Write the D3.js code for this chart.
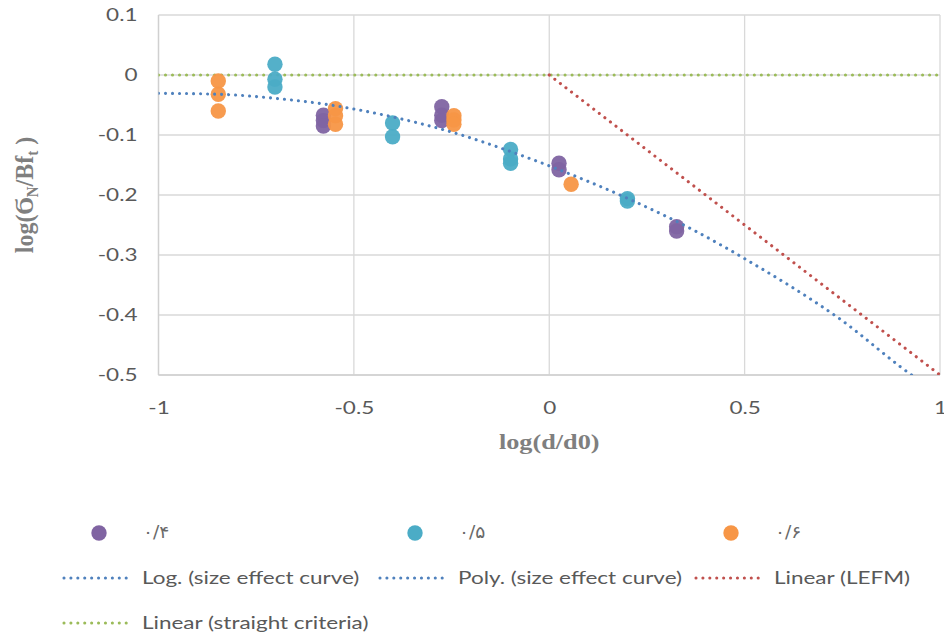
<!DOCTYPE html>
<html><head><meta charset="utf-8">
<script src="https://cdn.jsdelivr.net/npm/d3@7"></script>
<style>
html,body{margin:0;padding:0;background:#fff;}
svg{display:block;}
</style></head>
<body>
<svg id="chart" width="944" height="639"></svg>
<script>
// ---- data ----
const seriesNames = ["۰/۴", "۰/۵", "۰/۶"];
const seriesColors = ["#8064A2", "#4BACC6", "#F79646"];
// [log(d/d0), log(σN/Bft)]
const s04 = [[-0.578,-0.067],[-0.578,-0.076],[-0.578,-0.085],[-0.275,-0.053],[-0.275,-0.067],[-0.275,-0.076],[0.025,-0.147],[0.025,-0.158],[0.326,-0.253],[0.326,-0.26]];
const s05 = [[-0.702,0.018],[-0.702,-0.007],[-0.702,-0.02],[-0.401,-0.08],[-0.401,-0.103],[-0.099,-0.124],[-0.099,-0.14],[-0.099,-0.147],[0.2,-0.206],[0.2,-0.21]];
const s06 = [[-0.847,-0.01],[-0.847,-0.032],[-0.847,-0.06],[-0.547,-0.056],[-0.547,-0.068],[-0.547,-0.082],[-0.244,-0.068],[-0.244,-0.075],[-0.244,-0.082],[0.056,-0.182]];
// size effect curve (trendline)
const curveX = [-1.0,-0.85,-0.70,-0.57,-0.40,-0.24,-0.11,0.01,0.205,0.377,0.505,0.736,0.95,1.0];
const curveY = [-0.0305,-0.032,-0.039,-0.049,-0.07,-0.097,-0.125,-0.154,-0.207,-0.261,-0.308,-0.403,-0.51,-0.53];
const lefmX = [0, 1];
const lefmY = [0, -0.5];
const straightX = [-1, 1];
const straightY = [0, 0];
const xTicks = [-1, -0.5, 0, 0.5, 1];
const yTicks = [0.1, 0, -0.1, -0.2, -0.3, -0.4, -0.5];
const lineNames = ["Log. (size effect curve)", "Poly. (size effect curve)", "Linear (LEFM)", "Linear (straight criteria)"];
const lineColors = ["#4F81BD", "#4F81BD", "#C0504D", "#9BBB59"];

// ---- drawing ----
const svg = d3.select("#chart");
const L = 158.5, R = 940, T = 15, B = 375;
const SX = 1.25; // horizontal text stretch of the reference
const x = d3.scaleLinear().domain([-1, 1]).range([L, R]);
const y = d3.scaleLinear().domain([-0.5, 0.1]).range([B, T]);
const tickFont = "Lato, 'Open Sans', sans-serif";

svg.append("defs").append("clipPath").attr("id","plotclip")
  .append("rect").attr("x", L).attr("y", T-2).attr("width", R-L+4).attr("height", B-T+2);

// gridlines
const grid = svg.append("g");
grid.selectAll("line.h").data(yTicks).join("line")
  .attr("x1", L).attr("x2", R).attr("y1", d=>y(d)).attr("y2", d=>y(d))
  .attr("stroke", "#D9D9D9").attr("stroke-width", 1.3);
grid.selectAll("line.v").data(xTicks).join("line")
  .attr("y1", T).attr("y2", B).attr("x1", d=>x(d)).attr("x2", d=>x(d))
  .attr("stroke", "#D9D9D9").attr("stroke-width", 1.3);
svg.append("line").attr("x1", L).attr("x2", L).attr("y1", T).attr("y2", B).attr("stroke", "#D0D0D0").attr("stroke-width", 1.3);
svg.append("line").attr("x1", L).attr("x2", R).attr("y1", B).attr("y2", B).attr("stroke", "#D0D0D0").attr("stroke-width", 1.3);

// tick labels via d3 axes
const fmt = d => String(+d.toFixed(1));
const xAxis = svg.append("g").attr("transform", `translate(0,${B})`)
  .call(d3.axisBottom(x).tickValues(xTicks).tickSize(0).tickPadding(20).tickFormat(fmt));
const yAxis = svg.append("g").attr("transform", `translate(${L},0)`)
  .call(d3.axisLeft(y).tickValues(yTicks).tickSize(0).tickPadding(20).tickFormat(fmt));
[xAxis, yAxis].forEach(a => {
  a.select(".domain").remove();
  a.selectAll("text").attr("fill", "#595959").attr("font-family", tickFont).attr("font-size", 18);
});
xAxis.selectAll("text").attr("y", 0).attr("dy", 0).attr("transform", `translate(0,39) scale(${SX},1)`);
yAxis.selectAll("text").attr("x", 0).attr("transform", `translate(-21,0) scale(${SX},1)`);

// trend lines
const dotted = (sel, color) => sel.attr("fill","none").attr("stroke", color).attr("stroke-width", 3.1)
  .attr("stroke-dasharray", "0.01 7").attr("stroke-linecap", "round");
const lg = svg.append("g").attr("clip-path", "url(#plotclip)");
const lineGen = d3.line().x(d=>x(d[0])).y(d=>y(d[1])).curve(d3.curveMonotoneX);
const curvePts = curveX.map((v,i)=>[v, curveY[i]]);
lg.append("path").datum(straightX.map((v,i)=>[v, straightY[i]])).attr("d", lineGen).call(dotted, lineColors[3]);
lg.append("path").datum(lefmX.map((v,i)=>[v, lefmY[i]])).attr("d", lineGen).call(dotted, lineColors[2]);

// scatter series
const allSeries = [s04, s05, s06];
allSeries.forEach((s, i) => {
  svg.append("g").selectAll("circle").data(s).join("circle")
    .attr("cx", d=>x(d[0])).attr("cy", d=>y(d[1])).attr("r", 7.7)
    .attr("fill", seriesColors[i]).attr("fill-opacity", 0.95);
});
svg.append("g").attr("clip-path", "url(#plotclip)").append("path").datum(curvePts).attr("d", lineGen).call(dotted, lineColors[0]);

// axis titles
svg.append("text").attr("transform", `translate(${(L+R)/2},449) scale(${SX},1)`).attr("text-anchor","middle")
  .attr("font-family","'Liberation Serif', 'Times New Roman', serif").attr("font-weight","bold")
  .attr("font-size", 21).attr("fill", "#7F7F7F").text("log(d/d0)");
const yt = svg.append("text").attr("transform", `translate(33,${(T+B)/2}) rotate(-90) scale(1,1.05)`)
  .attr("text-anchor","middle")
  .attr("font-family","'Liberation Serif', 'Times New Roman', serif").attr("font-weight","bold")
  .attr("font-size", 24).attr("fill", "#7F7F7F");
yt.append("tspan").text("log(Ϭ");
yt.append("tspan").attr("font-size", 15).attr("dy", 5).text("N");
yt.append("tspan").attr("dy", -5).text("/Bf");
yt.append("tspan").attr("font-size", 15).attr("dy", 5).text("t");
yt.append("tspan").attr("dy", -5).text(" )");

// legend
const colX = [63, 379, 695];
const leg = svg.append("g").attr("font-family", tickFont).attr("font-size", 18).attr("fill", "#595959");
seriesNames.forEach((n, i) => {
  const g = leg.append("g").attr("transform", `translate(${colX[i]},533)`);
  g.append("circle").attr("cx", 36).attr("cy", 0).attr("r", 7.7).attr("fill", seriesColors[i]);
  g.append("text").attr("transform", `translate(80,0) scale(1.1,1)`).attr("dy", "0.3em")
    .attr("font-family", "'DejaVu Sans', sans-serif").attr("font-size", 17).attr("fill", "#6a6a6a").text(n);
});
const linePos = [[colX[0],578],[colX[1],578],[colX[2],578],[colX[0],623]];
lineNames.forEach((n, i) => {
  const g = leg.append("g").attr("transform", `translate(${linePos[i][0]},${linePos[i][1]})`);
  g.append("line").attr("x1", 1).attr("x2", 70).attr("y1", 0).attr("y2", 0).call(dotted, lineColors[i]).attr("stroke-dasharray","0.01 6.9");
  g.append("text").attr("transform", `translate(79,0) scale(${SX},1)`).attr("dy", "0.35em").text(n);
});
</script>
</body></html>
